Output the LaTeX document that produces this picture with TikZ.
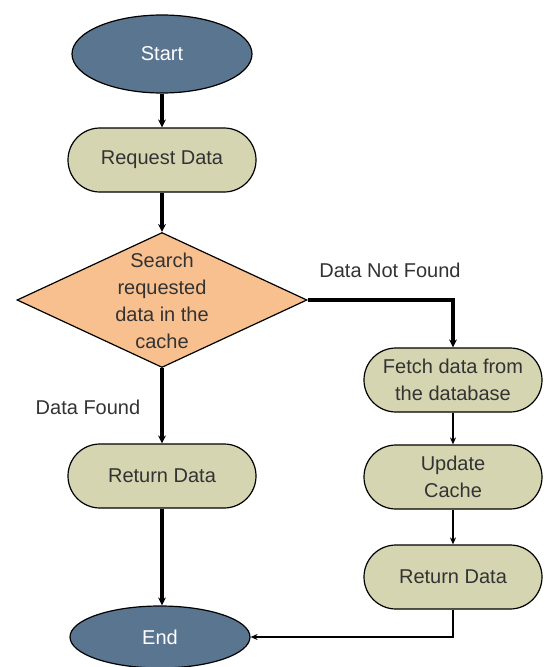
\documentclass[tikz,border=0pt]{standalone}
\usepackage{fontspec}
\setmainfont{Liberation Sans}
\usetikzlibrary{shapes.geometric,arrows.meta}
\definecolor{termfill}{HTML}{5A7590}
\definecolor{procfill}{HTML}{D6D5B1}
\definecolor{decfill}{HTML}{F9C08F}
\definecolor{txtgray}{HTML}{333333}
\begin{document}
\begin{tikzpicture}[x=1pt,y=-1pt,
  every node/.style={font=\fontsize{20}{27}\selectfont},
  term/.style={ellipse,draw=black,line width=1.2pt,fill=termfill,text=white,inner sep=0pt,minimum width=180pt,minimum height=62pt},
  proc/.style={rectangle,rounded corners=32pt,draw=black,line width=1.2pt,fill=procfill,text=txtgray,align=center,inner sep=0pt,minimum width=188pt,minimum height=64pt},
  decbox/.style={diamond,draw=black,line width=1.2pt,fill=decfill,inner sep=0pt,minimum width=290pt,minimum height=135pt},
  thickline/.style={line width=3.2pt,-{Stealth[length=8pt,width=8pt]}},
  thinline/.style={line width=1.5pt,-{Stealth[length=7pt,width=6pt]}},
  lbl/.style={text=txtgray}
]
\useasboundingbox (0,0) rectangle (544,667);
\fill[white] (0,0) rectangle (544,667);
\node[term,minimum height=78pt] (start) at (162,54) {Start};
\node[proc] (req) at (162,160) {Request Data};
\node[decbox] (dec) at (162,300) {};
\node[text=txtgray,align=center] (dectext) at (162,301) {Search\\requested\\data in the\\cache};
\node[proc] (ret1) at (162,476) {Return Data};
\node[term] (end) at (160,637) {End};
\node[proc,minimum width=178pt] (fetch) at (453,380) {Fetch data from\\the database};
\node[proc,minimum width=178pt] (upd) at (453,477) {Update\\Cache};
\node[proc,minimum width=178pt] (ret2) at (453,577) {Return Data};
\node[lbl] (nf) at (390,270) {Data Not Found};
\node[lbl] (fd) at (88,407) {Data Found};
\draw[thickline] (start.south) -- (req.north);
\draw[thickline] (req.south) -- (dec.north);
\draw[thickline] (dec.south) -- (ret1.north);
\draw[thickline] (ret1.south) -- (ret1.south |- end.north);
\draw[thickline] (dec.east) -| (fetch.north);
\draw[thinline] (fetch.south) -- (upd.north);
\draw[thinline] (upd.south) -- (ret2.north);
\draw[thinline] (ret2.south) |- (end.east);
\end{tikzpicture}
\end{document}
